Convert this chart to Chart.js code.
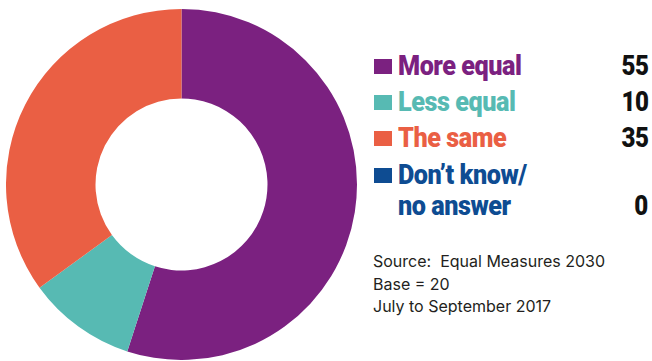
<!DOCTYPE html>
<html>
<head>
<meta charset="utf-8">
<script src="https://cdn.jsdelivr.net/npm/chart.js@4"></script>
<style>
  html, body { margin: 0; padding: 0; background: #fff; }
  #wrap { position: relative; width: 652px; height: 361px; overflow: hidden; }
  #donut { position: absolute; left: 6px; top: 9px; }
  .row { position: absolute; left: 374px; width: 274px; height: 31px;
         font-family: Roboto, "Liberation Sans", sans-serif;
         font-weight: 900; font-size: 28px; line-height: 31px; letter-spacing: -0.5px; }
  .row .sw { position: absolute; left: 0; top: 9px; width: 18px; height: 15px; }
  .row .lbl { position: absolute; left: 24px; top: 0; white-space: pre;
              transform: scaleX(0.9); transform-origin: left center; }
  .row .val { position: absolute; right: 0; color: #111;
              transform: scaleX(0.86); transform-origin: right center; }
  #source { position: absolute; left: 373px; top: 250px;
            font-family: Inter, "Liberation Sans", sans-serif; font-size: 16px;
            line-height: 22.5px; color: #231f20; white-space: pre; }
</style>
</head>
<body>
<div id="wrap">
  <canvas id="donut" width="351" height="351"></canvas>
  <div id="legend"></div>
  <div id="source"></div>
</div>
<script>
const categories = ['More equal', 'Less equal', 'The same', 'Don\u2019t know/\nno answer'];
const values = [55, 10, 35, 0];
const colors = ['#7b2180', '#57bab3', '#ea5f44', '#0e4c92'];
const sourceLines = ['Source:  Equal Measures 2030', 'Base = 20', 'July to September 2017'];

// legend rows: label on the left, value flush right
const rowTops = [50, 86, 122, 159];
const legend = document.getElementById('legend');
categories.forEach((name, i) => {
  const row = document.createElement('div');
  row.className = 'row';
  row.style.top = rowTops[i] + 'px';
  const lines = name.split('\n');
  row.innerHTML =
    '<div class="sw" style="background:' + colors[i] + '"></div>' +
    '<div class="lbl" style="color:' + colors[i] + '">' + name + '</div>' +
    '<div class="val" style="top:' + (lines.length - 1) * 31 + 'px">' + values[i] + '</div>';
  legend.appendChild(row);
});
document.getElementById('source').textContent = sourceLines.join('\n');

new Chart(document.getElementById('donut'), {
  type: 'doughnut',
  data: {
    labels: categories,
    datasets: [{
      data: values,
      backgroundColor: colors,
      borderWidth: 0
    }]
  },
  options: {
    responsive: false,
    animation: false,
    cutout: '49%',
    layout: { padding: 0 },
    plugins: {
      legend: { display: false },
      tooltip: { enabled: false }
    }
  }
});
</script>
</body>
</html>
